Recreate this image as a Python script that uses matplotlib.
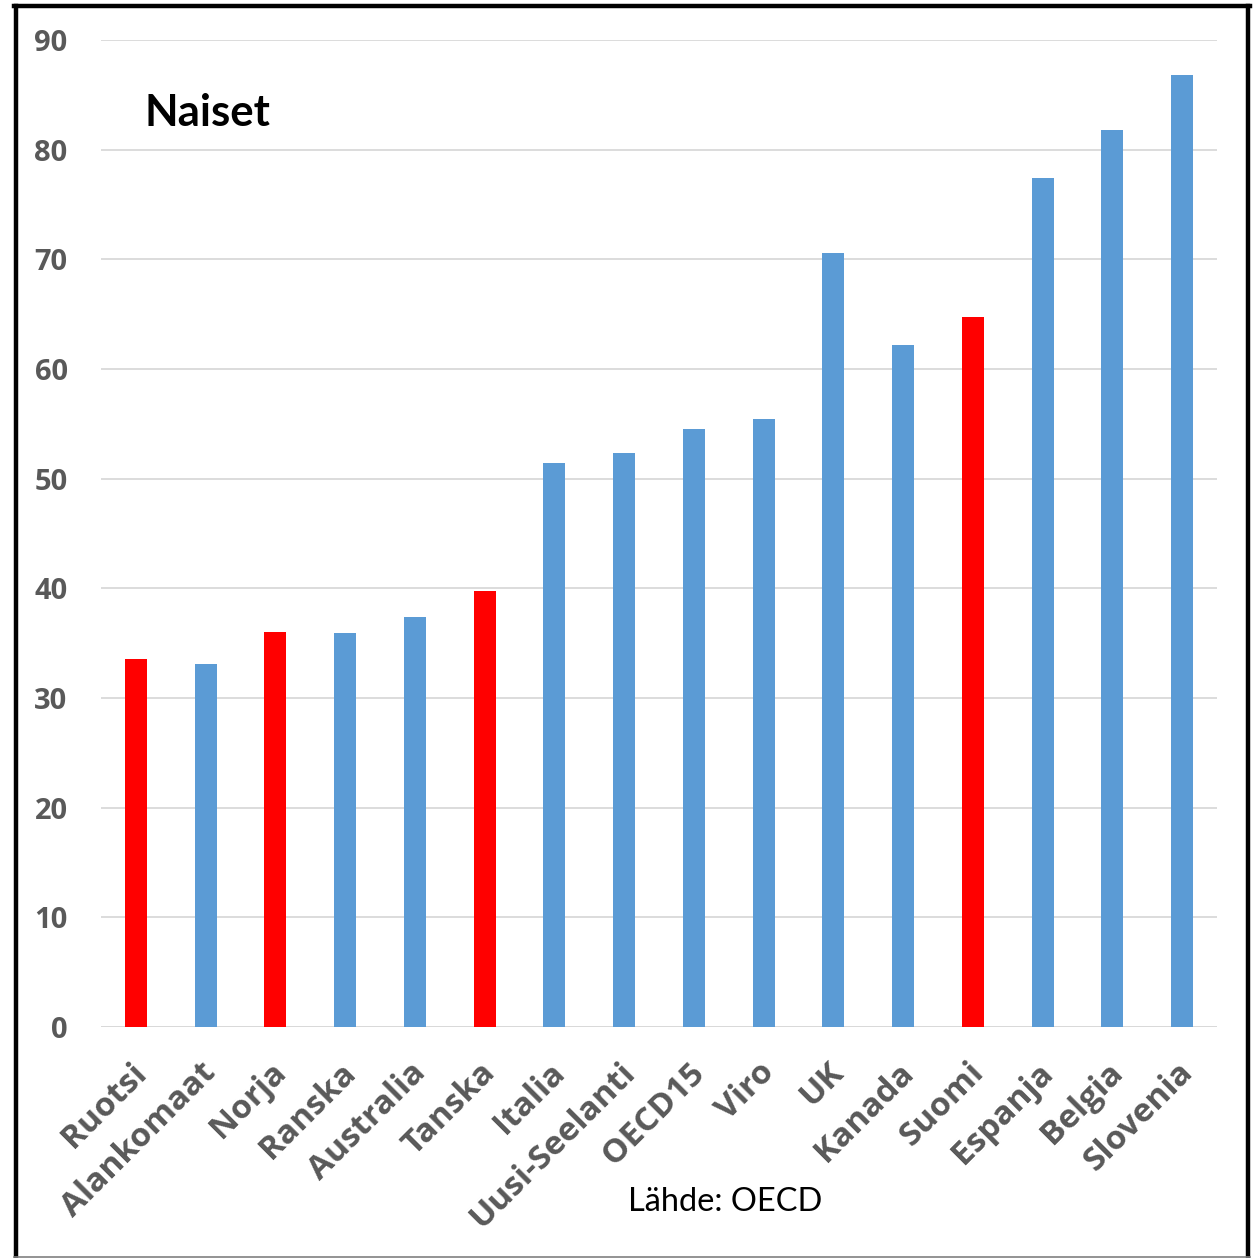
import matplotlib.pyplot as plt
from matplotlib.lines import Line2D
from matplotlib.transforms import ScaledTranslation

# Naisten arvot maittain (OECD)
maat = ["Ruotsi", "Alankomaat", "Norja", "Ranska", "Australia", "Tanska",
        "Italia", "Uusi-Seelanti", "OECD15", "Viro", "UK", "Kanada",
        "Suomi", "Espanja", "Belgia", "Slovenia"]
arvot = [33.6, 33.1, 36.0, 35.9, 37.4, 39.8, 51.4, 52.3, 54.5, 55.4,
         70.6, 62.2, 64.7, 77.4, 81.8, 86.8]
pohjoismaat = ["Ruotsi", "Norja", "Tanska", "Suomi"]

sininen = "#5b9bd5"
punainen = "#ff0000"
harmaa = "#595959"

plt.rcParams["font.family"] = ["Lato", "DejaVu Sans"]
tick_font = ["Open Sans", "DejaVu Sans"]

fig = plt.figure(figsize=(12.58, 12.58), dpi=100)
ax = fig.add_axes([101 / 1258, 1 - 1027 / 1258, 1116 / 1258, 987 / 1258])

varit = [punainen if m in pohjoismaat else sininen for m in maat]
x = range(len(maat))
ax.bar(x, arvot, width=0.315, color=varit, zorder=3)

ax.set_xlim(-0.5, len(maat) - 0.5)
ax.set_ylim(0, 90)
ax.set_yticks(range(0, 91, 10))
ax.grid(axis="y", color="#d9d9d9", linewidth=1.3, zorder=0)
for s in ax.spines.values():
    s.set_visible(False)
ax.axhline(0, color="#d9d9d9", linewidth=2, zorder=2)
ax.tick_params(length=0, labelcolor=harmaa)
ax.tick_params(axis="y", pad=24)
ax.set_yticklabels([str(v) for v in range(0, 91, 10)], fontsize=21,
                   fontweight="bold", family=tick_font)
ax.set_xticks(list(x))
ax.set_xticklabels(maat, rotation=45, ha="right", va="top",
                   rotation_mode="anchor", fontsize=24, fontweight="bold",
                   family=tick_font)
ax.tick_params(axis="x", pad=21)
# siirretään vinoja nimiä hieman vasemmalle
siirto = ScaledTranslation(-6 / 100, 0, fig.dpi_scale_trans)
for lab in ax.get_xticklabels():
    lab.set_transform(lab.get_transform() + siirto)

ax.text(145 / 1258, 1 - 113 / 1258, "Naiset", transform=fig.transFigure,
        fontsize=31.5, fontweight="bold", color="black", va="center")
fig.text(725 / 1258, 1 - 1202 / 1258, "Lähde: OECD", fontsize=23.5,
         color="black", ha="center", va="center")

# kehys kuvan ympärillä
fig.add_artist(Line2D([16 / 1258, 16 / 1258], [0, 1 - 6 / 1258],
                      transform=fig.transFigure, color="black", lw=3.2))
fig.add_artist(Line2D([14 / 1258, 1250 / 1258], [1 - 6 / 1258, 1 - 6 / 1258],
                      transform=fig.transFigure, color="black", lw=3.2))
fig.add_artist(Line2D([1248 / 1258, 1248 / 1258], [0, 1 - 6 / 1258],
                      transform=fig.transFigure, color="black", lw=3.2))
fig.add_artist(Line2D([14 / 1258, 1250 / 1258], [1 / 1258, 1 / 1258],
                      transform=fig.transFigure, color="#808080", lw=1.2))

fig.savefig("out.png", dpi=100, facecolor="white")
